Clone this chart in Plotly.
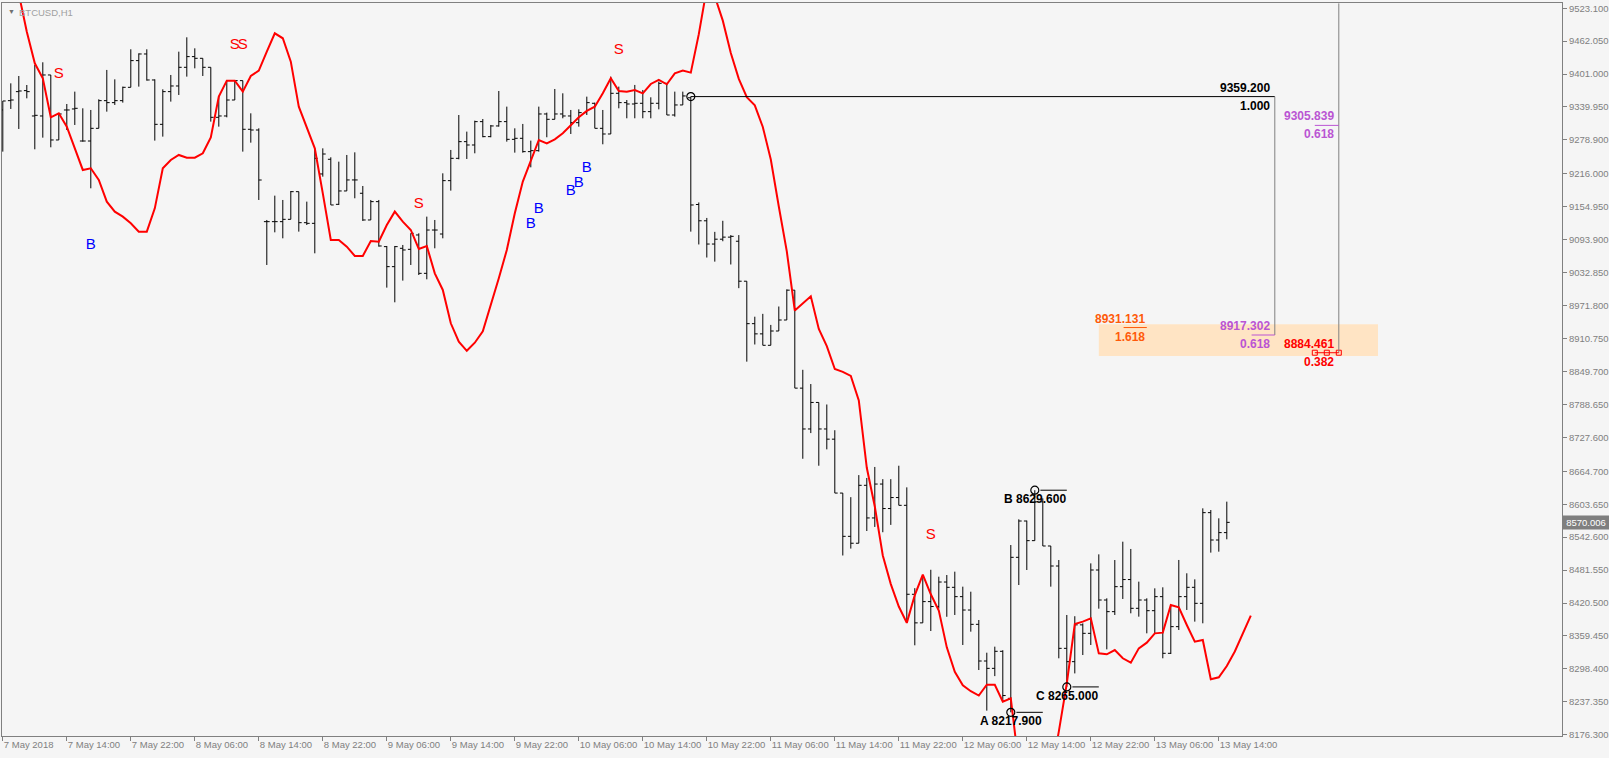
import plotly.graph_objects as go

# ---------------- data ----------------
time_labels = ["7 May 2018", "7 May 14:00", "7 May 22:00", "8 May 06:00", "8 May 14:00",
               "8 May 22:00", "9 May 06:00", "9 May 14:00", "9 May 22:00", "10 May 06:00",
               "10 May 14:00", "10 May 22:00", "11 May 06:00", "11 May 14:00", "11 May 22:00",
               "12 May 06:00", "12 May 14:00", "12 May 22:00", "13 May 06:00", "13 May 14:00"]
time_label_bars = [0, 8, 16, 24, 32, 40, 48, 56, 64, 72, 80, 88, 96, 104, 112, 120, 128, 136, 144, 152]

opens = [9334.4, 9351.7, 9368.4, 9370.3, 9323.3, 9323.3, 9399.3, 9278.8, 9334.4, 9336.3,
         9276.9, 9276.9, 9300.4, 9351.7, 9348.0, 9351.7, 9376.4, 9425.9, 9438.2, 9390.0,
         9307.8, 9368.4, 9378.9, 9413.5, 9433.3, 9430.2, 9413.5, 9320.8, 9323.3, 9352.9,
         9388.8, 9298.6, 9297.3, 9127.4, 9127.4, 9127.4, 9131.7, 9183.0, 9125.5, 9124.3,
         9215.8, 9243.0, 9159.5, 9184.3, 9204.7, 9180.0, 9130.5, 9164.5, 9081.1, 9044.0,
         9078.0, 9076.1, 9102.7, 9031.6, 9111.9, 9104.5, 9203.4, 9244.8, 9275.7, 9269.5,
         9312.8, 9285.0, 9304.8, 9312.8, 9280.0, 9281.9, 9257.2, 9259.0, 9327.0, 9317.1,
         9327.0, 9323.3, 9310.9, 9329.5, 9346.8, 9300.4, 9289.9, 9365.3, 9348.0, 9345.5,
         9346.8, 9331.3, 9346.8, 9383.8, 9325.1, 9343.7, 9357.0, 9159.2, 9129.0, 9085.9,
         9094.9, 9098.7, 9091.1, 9017.0, 8938.3, 8919.4, 8898.2, 8924.7, 8945.1, 9000.4,
         8818.8, 8743.1, 8792.3, 8743.1, 8724.2, 8624.3, 8544.1, 8531.3, 8638.7, 8578.2,
         8641.0, 8595.6, 8616.0, 8601.6, 8436.7, 8383.7, 8423.1, 8414.0, 8459.4, 8449.6,
         8432.3, 8407.5, 8381.0, 8313.0, 8299.4, 8331.0, 8243.8, 8505.2, 8572.5, 8536.1,
         8608.0, 8526.2, 8489.1, 8336.5, 8311.8, 8380.0, 8364.3, 8481.7, 8426.1, 8404.5,
         8450.8, 8464.0, 8410.7, 8426.1, 8406.3, 8432.3, 8327.3, 8376.7, 8432.3, 8449.6,
         8419.9, 8588.0, 8537.3, 8551.0]
highs = [9351.1, 9383.8, 9397.4, 9380.7, 9417.8, 9422.8, 9399.3, 9328.2, 9345.5, 9368.4,
         9337.5, 9334.4, 9354.2, 9408.6, 9391.2, 9377.7, 9446.9, 9439.4, 9446.9, 9391.2,
         9372.7, 9399.3, 9442.5, 9469.1, 9448.7, 9430.2, 9413.5, 9360.4, 9388.8, 9388.8,
         9388.8, 9328.2, 9300.4, 9130.5, 9175.6, 9167.6, 9184.2, 9183.0, 9164.5, 9263.3,
         9263.3, 9246.7, 9238.6, 9251.0, 9255.9, 9193.5, 9167.6, 9167.6, 9082.3, 9082.3,
         9084.2, 9105.8, 9105.8, 9136.7, 9130.5, 9217.0, 9260.3, 9325.1, 9294.3, 9314.6,
         9317.7, 9306.6, 9369.6, 9340.6, 9300.4, 9308.5, 9277.6, 9340.6, 9329.5, 9373.3,
         9365.3, 9334.4, 9335.6, 9359.1, 9348.0, 9334.4, 9396.2, 9377.7, 9352.9, 9380.8,
         9371.5, 9357.9, 9386.9, 9383.8, 9368.4, 9368.4, 9359.2, 9163.0, 9134.3, 9108.5,
         9129.0, 9102.5, 9102.5, 9017.0, 8951.2, 8956.5, 8936.0, 8970.1, 9001.9, 9000.4,
         8852.8, 8826.4, 8792.3, 8788.5, 8740.8, 8624.3, 8616.7, 8657.6, 8652.3, 8672.7,
         8650.1, 8650.1, 8675.0, 8634.9, 8448.0, 8470.7, 8482.1, 8469.3, 8472.4, 8478.6,
         8450.8, 8441.5, 8389.0, 8328.4, 8339.6, 8333.0, 8528.0, 8575.6, 8573.2, 8629.6,
         8614.5, 8526.2, 8500.2, 8398.3, 8396.0, 8382.8, 8494.0, 8510.7, 8429.2, 8500.2,
         8534.2, 8520.7, 8460.1, 8429.2, 8447.7, 8449.6, 8416.8, 8500.3, 8475.6, 8464.4,
         8596.0, 8592.9, 8577.5, 8608.4]
lows = [9257.2, 9336.3, 9299.2, 9356.0, 9261.5, 9283.1, 9265.2, 9278.8, 9297.3, 9306.6,
        9275.7, 9189.2, 9300.4, 9331.3, 9343.7, 9348.0, 9376.4, 9377.7, 9388.8, 9277.6,
        9285.0, 9349.9, 9362.2, 9396.2, 9411.6, 9397.4, 9312.8, 9303.5, 9320.8, 9352.9,
        9257.2, 9273.8, 9167.6, 9047.1, 9107.6, 9096.5, 9131.7, 9108.9, 9121.2, 9068.7,
        9210.8, 9158.3, 9158.3, 9184.3, 9170.7, 9128.7, 9130.5, 9081.1, 9005.1, 8977.9,
        9018.1, 9047.1, 9028.5, 9020.5, 9078.0, 9096.5, 9184.9, 9243.0, 9243.6, 9254.1,
        9283.8, 9283.8, 9303.5, 9275.7, 9255.3, 9255.3, 9228.1, 9257.2, 9283.8, 9317.1,
        9319.0, 9289.9, 9303.5, 9325.1, 9300.4, 9270.8, 9289.9, 9337.5, 9319.0, 9319.0,
        9319.0, 9319.0, 9335.6, 9325.1, 9322.1, 9343.7, 9108.9, 9085.1, 9060.9, 9053.3,
        9091.1, 9048.0, 9004.1, 8867.9, 8899.7, 8898.2, 8898.2, 8924.7, 8945.1, 8818.8,
        8687.9, 8735.5, 8675.0, 8705.3, 8624.3, 8508.6, 8521.4, 8531.3, 8554.0, 8561.5,
        8551.7, 8565.3, 8601.6, 8383.7, 8342.1, 8383.7, 8368.6, 8410.2, 8395.0, 8398.3,
        8342.7, 8367.4, 8296.3, 8221.0, 8285.0, 8237.0, 8217.9, 8453.9, 8481.7, 8536.0,
        8526.2, 8450.8, 8318.0, 8265.0, 8290.0, 8324.1, 8342.7, 8410.0, 8334.6, 8398.3,
        8428.0, 8401.4, 8395.2, 8364.3, 8364.3, 8318.0, 8326.0, 8370.5, 8407.6, 8386.0,
        8382.9, 8513.9, 8515.7, 8538.6]
closes = [9351.1, 9352.9, 9369.6, 9368.4, 9324.5, 9399.3, 9278.8, 9327.0, 9334.4, 9337.5,
          9276.9, 9300.4, 9351.7, 9348.0, 9351.7, 9376.4, 9425.9, 9438.2, 9390.0, 9307.8,
          9368.4, 9378.9, 9413.5, 9433.3, 9430.2, 9413.5, 9320.8, 9323.3, 9352.9, 9388.8,
          9298.6, 9297.3, 9204.6, 9127.4, 9127.4, 9131.7, 9183.0, 9125.5, 9124.3, 9244.8,
          9252.8, 9158.3, 9184.3, 9204.7, 9204.7, 9130.5, 9164.5, 9082.3, 9044.0, 9081.1,
          9074.9, 9105.8, 9031.6, 9111.9, 9111.9, 9203.4, 9244.8, 9275.7, 9269.5, 9312.8,
          9285.0, 9304.8, 9312.8, 9280.0, 9281.9, 9257.2, 9259.0, 9327.0, 9317.1, 9327.0,
          9323.3, 9310.9, 9329.5, 9348.0, 9300.4, 9289.9, 9365.3, 9348.0, 9345.5, 9346.8,
          9331.3, 9346.8, 9383.8, 9325.1, 9343.7, 9360.4, 9158.3, 9129.0, 9085.9, 9094.9,
          9098.7, 9100.2, 9017.0, 8938.3, 8919.4, 8898.2, 8924.7, 8945.1, 9000.4, 8818.8,
          8743.1, 8792.3, 8743.1, 8724.2, 8624.3, 8544.1, 8531.3, 8638.7, 8578.2, 8641.0,
          8595.6, 8616.0, 8601.6, 8436.7, 8383.7, 8423.1, 8414.0, 8459.4, 8449.6, 8432.3,
          8407.5, 8381.0, 8313.0, 8299.4, 8331.0, 8249.0, 8505.2, 8572.5, 8536.1, 8608.0,
          8526.2, 8489.1, 8336.5, 8311.8, 8380.0, 8364.3, 8481.7, 8426.1, 8404.5, 8450.8,
          8464.0, 8410.7, 8426.1, 8406.3, 8432.3, 8327.3, 8376.7, 8432.3, 8449.6, 8419.9,
          8588.0, 8537.3, 8551.0, 8570.006]

# red indicator line (one value per bar, continues 3 bars past the last bar)
ma_line = [9690, 9620, 9550, 9479.6, 9420.9, 9393.1, 9320.8, 9328.2, 9303.5, 9263.3,
           9223.2, 9226.3, 9204.6, 9164.5, 9145.9, 9136.7, 9124.3, 9108.9, 9108.9, 9152.1,
           9226.3, 9241.7, 9251.0, 9246.0, 9246.0, 9254.1, 9283.7, 9359.1, 9388.8, 9388.8,
           9368.4, 9397.4, 9407.3, 9442.5, 9476.5, 9467.3, 9424.0, 9340.6, 9303.5, 9263.3,
           9179.9, 9093.4, 9093.4, 9081.1, 9063.8, 9063.8, 9091.6, 9090.3, 9121.2, 9146.0,
           9127.4, 9112.0, 9076.8, 9082.3, 9031.6, 9000.8, 8939.0, 8905.0, 8888.0, 8903.0,
           8924.0, 8972.0, 9022.4, 9074.9, 9142.9, 9201.6, 9238.6, 9278.8, 9272.6, 9280.0,
           9291.2, 9305.4, 9320.8, 9332.6, 9340.6, 9365.3, 9393.1, 9369.6, 9368.4, 9371.5,
           9365.3, 9382.6, 9390.0, 9382.0, 9402.4, 9407.3, 9403.6, 9475.0, 9560.0, 9545.0,
           9500.0, 9440.0, 9392.0, 9358.0, 9343.1, 9303.0, 9242.5, 9155.5, 9072.2, 8962.5,
           8975.4, 8989.0, 8928.5, 8896.7, 8854.3, 8849.0, 8841.5, 8796.1, 8671.2, 8599.4,
           8508.6, 8455.6, 8414.0, 8383.7, 8435.2, 8473.0, 8436.7, 8406.4, 8338.3, 8292.9,
           8268.0, 8257.0, 8249.0, 8269.0, 8269.0, 8237.6, 8243.8, 8120.0, 8060.0, 8030.0,
           8040.0, 8100.0, 8182.0, 8271.6, 8381.6, 8386.0, 8392.1, 8327.2, 8325.4, 8333.4,
           8318.0, 8309.9, 8336.5, 8347.0, 8364.3, 8365.6, 8416.8, 8412.5, 8379.8, 8348.9,
           8352.0, 8279.1, 8282.8, 8303.8, 8330.6, 8362.7, 8397.0]

# arrow signals
sell_bars = [7, 29, 30, 52, 77, 116]
sell_prices = [9400.6, 9455.0, 9455.0, 9159.6, 9445.1, 8546.6]
buy_bars = [11, 66, 67, 71, 72, 73]
buy_prices = [9082.9, 9122.5, 9150.3, 9184.3, 9198.5, 9226.3]

# zigzag points
zz_names = ["A", "B", "C"]
zz_bars = [126, 129, 133]
zz_prices = [8217.9, 8629.6, 8265.0]

# fibonacci objects
fib_start_bar, fib_start_price = 86, 9359.2
fib1_end_bar = 159
fib1_levels = [9359.2, 8917.302]
fib1_ratios = ["1.000", "0.618"]
fib2_bar = 167
fib2_levels = [9305.839, 8884.461]
fib2_ratios = ["0.618", "0.382"]
fib3_bar = 143
fib3_level = 8931.131
fib3_ratio = "1.618"
zone_bars = [137.0, 171.9]
zone_prices = [8878.4, 8937.2]
last_price = 8570.006

ytick_vals = [9523.1, 9462.05, 9401.0, 9339.95, 9278.9, 9216.0, 9154.95, 9093.9, 9032.85,
              8971.8, 8910.75, 8849.7, 8788.65, 8727.6, 8664.7, 8603.65, 8542.6, 8481.55,
              8420.5, 8359.45, 8298.4, 8237.35, 8176.3]
ytick_text = ["%.3f" % v for v in ytick_vals]

# ---------------- figure ----------------
FONT = "Liberation Sans, Arial, sans-serif"
GRAY = "#808080"
PURPLE = "#ba55d3"
ORANGE = "#ff5a0a"
bars = list(range(len(opens)))

fig = go.Figure()

fig.add_trace(go.Ohlc(
    x=bars, open=opens, high=highs, low=lows, close=closes,
    increasing=dict(line=dict(color="black", width=1)),
    decreasing=dict(line=dict(color="black", width=1)),
    tickwidth=0.36, hoverinfo="skip", showlegend=False))

fig.add_trace(go.Scatter(
    x=list(range(len(ma_line))), y=ma_line, mode="lines",
    line=dict(color="#ff0000", width=2), hoverinfo="skip", showlegend=False))

fig.add_trace(go.Scatter(
    x=sell_bars, y=sell_prices, mode="text", text=["S"] * len(sell_bars),
    textposition="middle center", textfont=dict(family=FONT, size=15, color="#ff0000"),
    hoverinfo="skip", showlegend=False))
fig.add_trace(go.Scatter(
    x=buy_bars, y=buy_prices, mode="text", text=["B"] * len(buy_bars),
    textposition="middle center", textfont=dict(family=FONT, size=15, color="#0000ff"),
    hoverinfo="skip", showlegend=False))

# zigzag circles + start point of the fibo
fig.add_trace(go.Scatter(
    x=zz_bars + [fib_start_bar], y=zz_prices + [fib_start_price], mode="markers",
    marker=dict(symbol="circle-open", size=8, color="black", line=dict(width=1.2)),
    hoverinfo="skip", showlegend=False))

shapes = []
shapes.append(dict(type="rect", xref="x", yref="y", x0=zone_bars[0], x1=zone_bars[1],
                   y0=zone_prices[0], y1=zone_prices[1], fillcolor="#ffe4c4",
                   line=dict(width=0), layer="below"))
shapes.append(dict(type="line", xref="x", yref="y", x0=fib_start_bar, x1=fib1_end_bar,
                   y0=fib_start_price, y1=fib_start_price, line=dict(color="black", width=1)))
shapes.append(dict(type="line", xref="x", yref="y", x0=fib1_end_bar, x1=fib1_end_bar,
                   y0=fib1_levels[0], y1=fib1_levels[1], line=dict(color=GRAY, width=1)))
shapes.append(dict(type="line", xref="x", yref="y", x0=fib1_end_bar - 2.9, x1=fib1_end_bar,
                   y0=fib1_levels[1], y1=fib1_levels[1], line=dict(color=PURPLE, width=1)))
shapes.append(dict(type="line", xref="x", yref="y", x0=fib2_bar, x1=fib2_bar,
                   y0=9532.0, y1=fib2_levels[1], line=dict(color=GRAY, width=1)))
shapes.append(dict(type="line", xref="x", yref="y", x0=fib2_bar - 3, x1=fib2_bar,
                   y0=fib2_levels[0], y1=fib2_levels[0], line=dict(color=PURPLE, width=1)))
shapes.append(dict(type="line", xref="x", yref="y", x0=fib2_bar - 3, x1=fib2_bar,
                   y0=fib2_levels[1], y1=fib2_levels[1], line=dict(color="#ff0000", width=1)))
shapes.append(dict(type="line", xref="x", yref="y", x0=fib3_bar - 2.9, x1=fib3_bar,
                   y0=fib3_level, y1=fib3_level, line=dict(color=ORANGE, width=1)))
for b, p in zip(zz_bars, zz_prices):
    shapes.append(dict(type="line", xref="x", yref="y", x0=b + 0.7, x1=b + 4,
                       y0=p, y1=p, line=dict(color="black", width=1)))

# selection handles on the red level
fig.add_trace(go.Scatter(
    x=[fib2_bar - 3, fib2_bar - 1.5, fib2_bar], y=[fib2_levels[1]] * 3, mode="markers",
    marker=dict(symbol="square-open", size=5, color="#ff0000", line=dict(width=1)),
    hoverinfo="skip", showlegend=False))

ann = []
def lab(x, y, text, color, above, xshift=-3, size=12):
    ann.append(dict(x=x, y=y, xref="x", yref="y", text="<b>%s</b>" % text, showarrow=False,
                    xanchor="right", yanchor="middle", xshift=xshift,
                    yshift=9 if above else -9,
                    font=dict(family=FONT, size=size, color=color)))

lab(fib1_end_bar, fib1_levels[0], "%.3f" % fib1_levels[0], "black", True)
lab(fib1_end_bar, fib1_levels[0], fib1_ratios[0], "black", False)
lab(fib1_end_bar, fib1_levels[1], "%.3f" % fib1_levels[1], PURPLE, True)
lab(fib1_end_bar, fib1_levels[1], fib1_ratios[1], PURPLE, False)
lab(fib2_bar, fib2_levels[0], "%.3f" % fib2_levels[0], PURPLE, True)
lab(fib2_bar, fib2_levels[0], fib2_ratios[0], PURPLE, False)
lab(fib2_bar, fib2_levels[1], "%.3f" % fib2_levels[1], "#ff0000", True)
lab(fib2_bar, fib2_levels[1], fib2_ratios[1], "#ff0000", False)
lab(fib3_bar, fib3_level, "%.3f" % fib3_level, ORANGE, True, xshift=0)
lab(fib3_bar, fib3_level, fib3_ratio, ORANGE, False, xshift=0)

for n, b, p in zip(zz_names, zz_bars, zz_prices):
    ann.append(dict(x=b, y=p, xref="x", yref="y", text="<b>%s %.3f</b>" % (n, p),
                    showarrow=False, xanchor="center", yanchor="middle", yshift=-9,
                    font=dict(family=FONT, size=12, color="black")))

ann.append(dict(x=0, y=1, xref="paper", yref="paper", text="BTCUSD,H1", showarrow=False,
                xanchor="left", yanchor="top", xshift=15, yshift=-2,
                font=dict(family=FONT, size=9.5, color="#a0a0a0")))
ann.append(dict(x=0, y=1, xref="paper", yref="paper", text="▼", showarrow=False,
                xanchor="left", yanchor="top", xshift=4, yshift=-3,
                font=dict(family=FONT, size=7, color="#707070")))
ann.append(dict(x=1, y=last_price, xref="paper", yref="y", text="%.3f" % last_price,
                showarrow=False, xanchor="left", yanchor="middle", xshift=0,
                bgcolor="#7f7f7f", borderpad=1, width=44, align="center",
                font=dict(family=FONT, size=9.5, color="white")))

fig.update_layout(
    width=1609, height=758,
    margin=dict(l=2, r=47, t=3, b=22, autoexpand=False),
    paper_bgcolor="#f5f5f5", plot_bgcolor="#f5f5f5",
    shapes=shapes, annotations=ann, showlegend=False,
    font=dict(family=FONT, size=9.5, color=GRAY),
    xaxis=dict(range=[-0.1, -0.1 + 1560 / 8], showgrid=False, zeroline=False,
               rangeslider=dict(visible=False), tickmode="array",
               tickvals=time_label_bars, ticktext=time_labels, ticks="outside",
               ticklen=4, tickcolor=GRAY, showline=True, linecolor=GRAY, linewidth=1,
               mirror=True, ticklabelposition="outside right", tickangle=0,
               tickfont=dict(family=FONT, size=9.5, color=GRAY), automargin=False,
               fixedrange=True),
    yaxis=dict(range=[8174.0, 9532.7], side="right", showgrid=False, zeroline=False,
               tickmode="array", tickvals=ytick_vals, ticktext=ytick_text,
               ticks="outside", ticklen=4, tickcolor=GRAY, showline=True,
               linecolor=GRAY, linewidth=1, mirror=True,
               tickfont=dict(family=FONT, size=9.5, color=GRAY), automargin=False,
               fixedrange=True),
)

fig.write_html("out.html", config={"displayModeBar": False},
               post_script="document.body.style.margin='0';document.body.style.overflow='hidden';")
